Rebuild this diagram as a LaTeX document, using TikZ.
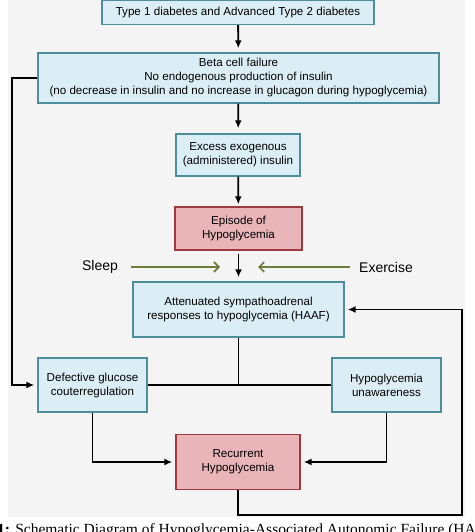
\documentclass[tikz,border=0pt]{standalone}
\usepackage{fontspec}
\setmainfont{Liberation Sans}
\newfontfamily\capfont{Liberation Serif}
\usetikzlibrary{arrows.meta}
\definecolor{boxblue}{HTML}{DCEEF5}
\definecolor{edgeblue}{HTML}{4E8E9A}
\definecolor{boxred}{HTML}{E9B5B9}
\definecolor{edgered}{HTML}{9E3A3E}
\definecolor{olive}{HTML}{6E7C3C}
\definecolor{panel}{HTML}{F4F4F4}
\tikzset{
  every picture/.style={line join=miter, >={Latex[length=8pt,width=7pt]}},
  bluebox/.style={draw=edgeblue, fill=boxblue, line width=1.4pt, align=center, font=\fontsize{11.6}{14}\selectfont, inner sep=0pt},
  redbox/.style={draw=edgered, fill=boxred, line width=1.4pt, align=center, font=\fontsize{11.6}{14}\selectfont, inner sep=0pt},
  link/.style={line width=1.8pt, black},
  factor/.style={line width=1.6pt, olive, -{Straight Barb[length=5pt,width=10pt,line width=1.6pt]}},
}

\begin{document}
\begin{tikzpicture}[x=1pt,y=-1pt]
\clip (0,0) rectangle (474,532);
\fill[white] (0,0) rectangle (474,532);
\fill[panel] (8,0) rectangle (465,517);
% boxes
\node[bluebox,minimum width=272pt,minimum height=24pt] (type) at (238.000,12.500) {Type 1 diabetes and Advanced Type 2 diabetes};
\node[bluebox,minimum width=401pt,minimum height=50pt] (beta) at (238.500,78.000) {Beta cell failure\\No endogenous production of insulin\\(no decrease in insulin and no increase in glucagon during hypoglycemia)};
\node[bluebox,minimum width=124pt,minimum height=42pt] (excess) at (238.000,155.000) {Excess exogenous\\(administered) insulin};
\node[redbox,minimum width=127pt,minimum height=43pt] (episode) at (238.500,228.500) {Episode of\\Hypoglycemia};
\node[bluebox,minimum width=211pt,minimum height=55pt] (haaf) at (238.500,309.500) {Attenuated sympathoadrenal\\responses to hypoglycemia (HAAF)};
\node[bluebox,minimum width=109pt,minimum height=54pt] (defect) at (92.500,385.000) {Defective glucose\\couterregulation};
\node[bluebox,minimum width=109pt,minimum height=54pt] (unaware) at (386.500,385.000) {Hypoglycemia\\unawareness};
\node[redbox,minimum width=124pt,minimum height=55pt] (recur) at (238.000,462.000) {Recurrent\\Hypoglycemia};
% side factors
\node[font=\fontsize{14}{16}\selectfont] (sleep) at (100.000,267.000) {Sleep};
\node[font=\fontsize{14}{16}\selectfont] (exercise) at (386.000,267.000) {Exercise};
\coordinate (sleeptip) at (220.000,267.000);
\coordinate (exertip) at (258.000,267.000);
\draw[factor] ([xshift=10pt]sleep.east) -- (sleeptip);
\draw[factor] ([xshift=-6pt]exercise.west) -- (exertip);
% main chain
\draw[link,->,shorten >=4pt] (type) -- (beta);
\draw[link,->,shorten >=5pt] (beta) -- (excess);
\draw[link,->,shorten >=2pt] (excess) -- (episode);
\draw[link,->,shorten <=3pt,shorten >=4pt] (episode) -- (haaf);
% branches
\draw[link] (haaf.south) -- (haaf.south |- defect.east);
\draw[link] (defect.east) -- (unaware.west);
\draw[link,->,shorten >=3pt] (defect.south) |- (recur.west);
\draw[link,->,shorten >=3pt] (unaware.south) |- (recur.east);
% loops
\coordinate (rightturn) at (462.000,515.000);
\coordinate (leftturn) at (12.000,78.000);
\draw[link,->,shorten >=3pt] (recur.south) |- (rightturn) |- (haaf.east);
\draw[link,->,shorten >=3pt] (beta.west) -- (leftturn) |- (defect.west);
% caption
\node[anchor=base west,inner sep=0pt,font=\capfont\fontsize{15.5}{18}\selectfont] (caption) at (-3.000,534.000) {\textbf{1:} Schematic Diagram of Hypoglycemia-Associated Autonomic Failure (HAAF)};
\end{tikzpicture}
\end{document}
